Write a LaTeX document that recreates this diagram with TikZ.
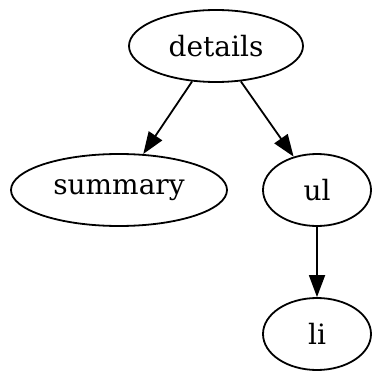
\documentclass[tikz,border=0pt]{standalone}
\usepackage{fontspec}
\setmainfont{DejaVu Serif}
\usetikzlibrary{arrows.meta, shapes.geometric}

\begin{document}
\begin{tikzpicture}[x=0.5pt, y=-0.5pt,
    n/.style={draw, ellipse, inner sep=0pt, minimum height=36pt, line width=0.9pt, font=\fontsize{14}{16}\selectfont},
    e/.style={-{Triangle[length=11pt, width=8pt]}, line width=0.9pt}]
        \useasboundingbox (0,0) rectangle (371,374);
        \node[n, minimum width=87pt] (details) at (216,46) {details};
        \node[n, minimum width=108pt] (summary) at (119,190) {summary};
        \node[n, minimum width=54pt] (ul) at (317,190) {ul};
        \node[n, minimum width=54pt] (li) at (317,334) {li};

        \draw[e] (details) -- (summary);
        \draw[e] (details) -- (ul);
        \draw[e] (ul) -- (li);
      \end{tikzpicture}
\end{document}
